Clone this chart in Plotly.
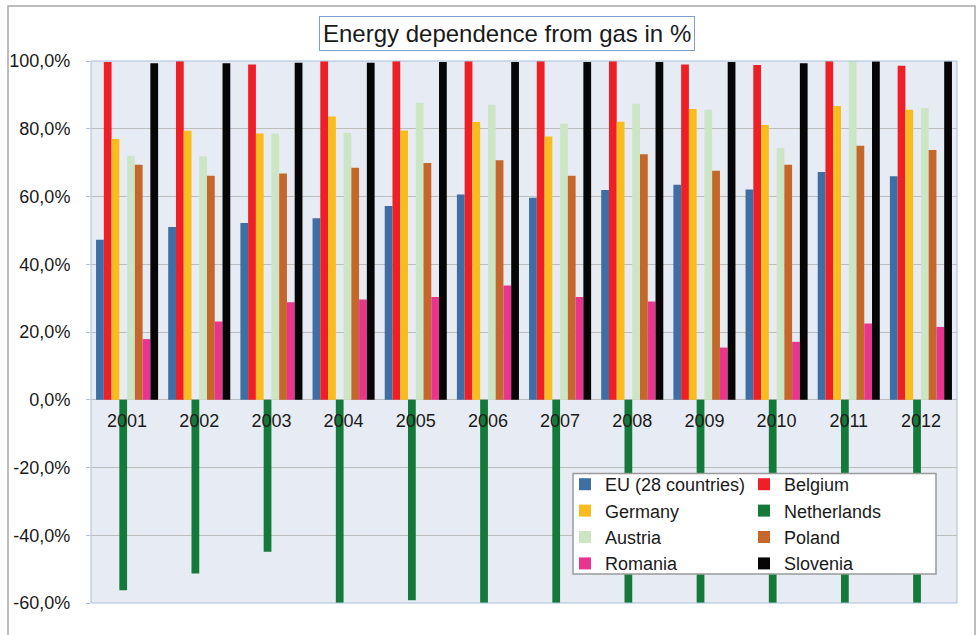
import plotly.graph_objects as go

years = ["2001", "2002", "2003", "2004", "2005", "2006", "2007", "2008", "2009", "2010", "2011", "2012"]

eu28 = [47.2, 51.0, 52.2, 53.6, 57.2, 60.6, 59.6, 61.9, 63.5, 62.1, 67.2, 66.0]
belgium = [99.7, 100.0, 99.0, 100.0, 100.0, 100.0, 100.0, 100.0, 99.0, 98.8, 100.0, 98.6]
germany = [77.0, 79.4, 78.6, 83.6, 79.5, 82.0, 77.7, 82.1, 85.8, 81.1, 86.7, 85.6]
netherlands = [-56.2, -51.3, -44.9, -63.0, -59.2, -62.0, -61.5, -67.0, -62.0, -70.0, -63.0, -81.0]
austria = [72.0, 71.9, 78.6, 78.8, 87.7, 87.1, 81.5, 87.4, 85.6, 74.3, 99.9, 86.1]
poland = [69.4, 66.1, 66.8, 68.5, 69.9, 70.7, 66.1, 72.5, 67.6, 69.4, 75.0, 73.7]
romania = [17.9, 23.1, 28.8, 29.6, 30.3, 33.7, 30.3, 29.0, 15.4, 17.1, 22.5, 21.5]
slovenia = [99.3, 99.3, 99.5, 99.5, 99.7, 99.7, 99.7, 99.7, 99.7, 99.3, 99.9, 99.9]

series = [
    ("EU (28 countries)", eu28, "#3E6EA4", "legend"),
    ("Belgium", belgium, "#EE1F26", "legend2"),
    ("Germany", germany, "#F8BC1F", "legend"),
    ("Netherlands", netherlands, "#137A3A", "legend2"),
    ("Austria", austria, "#CCE6C5", "legend"),
    ("Poland", poland, "#C5662A", "legend2"),
    ("Romania", romania, "#E8358E", "legend"),
    ("Slovenia", slovenia, "#060606", "legend2"),
]

tick_vals = [-60, -40, -20, 0, 20, 40, 60, 80, 100]
tick_text = ["-60,0%", "-40,0%", "-20,0%", "0,0%", "20,0%", "40,0%", "60,0%", "80,0%", "100,0%"]

fig = go.Figure()
for name, vals, color, leg in series:
    fig.add_trace(go.Bar(x=years, y=vals, name=name, marker=dict(color=color, line=dict(width=0)),
                         legend=leg))

W, H = 978, 635
L, R, T, B = 91, 21, 61, 32
pw, ph = W - L - R, H - T - B

def px_x(x):
    return (x - L) / pw

def px_y(y):
    return (H - B - y) / ph

font_family = "Liberation Sans, Arial, sans-serif"

legend_common = dict(
    xanchor="left", yanchor="top",
    bgcolor="rgba(0,0,0,0)", borderwidth=0,
    traceorder="normal",
    font=dict(size=18, color="#1A1A1A"),
    itemclick=False, itemdoubleclick=False,
    tracegroupgap=0,
)

fig.update_layout(
    width=W, height=H,
    margin=dict(l=L, r=R, t=T, b=B, pad=0, autoexpand=False),
    paper_bgcolor="white",
    plot_bgcolor="#E7ECF4",
    barmode="group",
    bargap=0.14,
    bargroupgap=0,
    font=dict(family=font_family, size=18, color="#1A1A1A"),
    xaxis=dict(
        type="category",
        anchor="free",
        position=0.375,
        automargin=False,
        showgrid=False,
        showline=False,
        zeroline=False,
        ticks="",
        ticklabelstandoff=8,
        tickfont=dict(size=18, color="#1A1A1A"),
    ),
    yaxis=dict(
        range=[-60, 100],
        automargin=False,
        tickmode="array",
        tickvals=tick_vals,
        ticktext=tick_text,
        showgrid=True,
        gridcolor="#BDBDBD",
        gridwidth=1,
        zeroline=False,
        showline=False,
        ticks="outside",
        ticklen=4,
        tickcolor="#A9BEDB",
        ticklabelstandoff=12,
        tickfont=dict(size=18, color="#1A1A1A"),
    ),
    legend=dict(x=px_x(565), y=px_y(466), **legend_common),
    legend2=dict(x=px_x(744), y=px_y(466), **legend_common),
    showlegend=True,
)

# legend box (white, grey border) covering bars
fig.add_shape(type="rect", xref="paper", yref="paper",
              x0=px_x(573), x1=px_x(936), y0=px_y(574), y1=px_y(473.5),
              fillcolor="white", line=dict(color="#9A9A9A", width=1.5), layer="above")

# plot area border
fig.add_shape(type="rect", xref="paper", yref="paper", x0=0, x1=1, y0=0, y1=1,
              line=dict(color="#A9BEDB", width=1), fillcolor="rgba(0,0,0,0)", layer="above")

# chart area frame
fig.add_shape(type="rect", xref="paper", yref="paper",
              x0=px_x(8), x1=px_x(975), y0=px_y(645), y1=px_y(6),
              line=dict(color="#A8A8A8", width=1.5), fillcolor="rgba(0,0,0,0)", layer="below")

# title box
fig.add_annotation(
    text="Energy dependence from gas in %",
    xref="paper", yref="paper",
    x=px_x(506.5), y=px_y(33.5), xanchor="center", yanchor="middle",
    showarrow=False,
    font=dict(family=font_family, size=24, color="#1A1A1A"),
    bordercolor="#7FA0CF", borderwidth=1, borderpad=3, bgcolor="white",
)

fig.write_html("out.html")
